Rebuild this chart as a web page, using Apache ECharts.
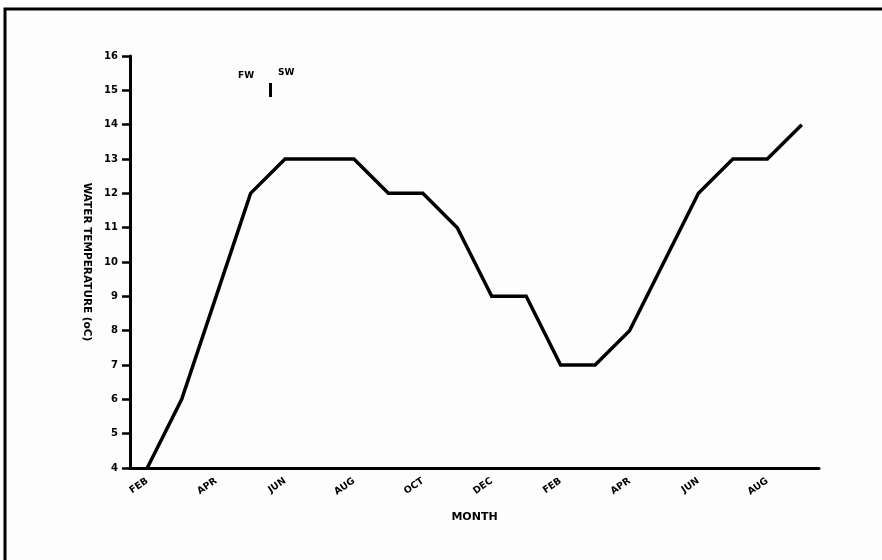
<!DOCTYPE html>
<html>
<head>
<meta charset="utf-8">
<script src="https://cdn.jsdelivr.net/npm/echarts@6/dist/echarts.min.js"></script>
<style>
  html, body { margin: 0; padding: 0; background: #fdfdfd; }
  #chart { width: 882px; height: 560px; }
</style>
</head>
<body>
<div id="chart"></div>
<script>
// Monthly water temperature over twenty months
const months = ['FEB', 'MAR', 'APR', 'MAY', 'JUN', 'JUL', 'AUG', 'SEP', 'OCT', 'NOV',
                'DEC', 'JAN', 'FEB', 'MAR', 'APR', 'MAY', 'JUN', 'JUL', 'AUG', 'SEP'];
const waterTemp = [4, 6, 9, 12, 13, 13, 13, 12, 12, 11,
                   9, 9, 7, 7, 8, 10, 12, 13, 13, 14];
const yTicks = { min: 4, max: 16, step: 1 };

const font = 'DejaVu Sans';
const chart = echarts.init(document.getElementById('chart'));

chart.setOption({
  backgroundColor: '#fdfdfd',
  animation: false,
  grid: { left: 130, right: 63, top: 56, bottom: 92 },
  xAxis: {
    type: 'category',
    data: months,
    boundaryGap: true,
    name: 'MONTH',
    nameLocation: 'middle',
    nameGap: 44,
    nameTextStyle: { fontFamily: font, fontWeight: 'bold', fontSize: 11, color: '#000' },
    axisLine: { lineStyle: { color: '#000', width: 3 } },
    axisTick: { alignWithLabel: true, interval: 0, length: 6, lineStyle: { color: '#000', width: 2.5 } },
    axisLabel: {
      interval: 1, rotate: 35, margin: 12,
      fontFamily: font, fontWeight: 'bold', fontSize: 9.5, color: '#000'
    },
    splitLine: { show: false }
  },
  yAxis: {
    type: 'value',
    min: yTicks.min,
    max: yTicks.max,
    interval: yTicks.step,
    name: 'WATER TEMPERATURE (oC)',
    nameLocation: 'middle',
    nameRotate: -90,
    nameGap: 38,
    nameTextStyle: { fontFamily: font, fontWeight: 'bold', fontSize: 10.5, color: '#000' },
    axisLine: { show: true, lineStyle: { color: '#000', width: 3 } },
    axisTick: { show: true, length: 8, lineStyle: { color: '#000', width: 2.5 } },
    axisLabel: { margin: 12, fontFamily: font, fontWeight: 'bold', fontSize: 10, color: '#000' },
    splitLine: { show: false }
  },
  series: [{
    type: 'line',
    data: waterTemp,
    symbol: 'none',
    lineStyle: { color: '#000', width: 3.5, join: 'miter' }
  }],
  graphic: [
    // page frame along the top and left edges
    {
      type: 'polyline',
      shape: { points: [[5, 560], [5, 9], [882, 9]] },
      style: { stroke: '#000', lineWidth: 3, fill: null }
    },
    // freshwater / saltwater marker
    {
      type: 'text', left: 238, top: 71,
      style: { text: 'FW', font: 'bold 9px "DejaVu Sans"', fill: '#000' }
    },
    {
      type: 'line',
      shape: { x1: 270.5, y1: 83, x2: 270.5, y2: 97 },
      style: { stroke: '#000', lineWidth: 3 }
    },
    {
      type: 'text', left: 278, top: 68,
      style: { text: 'SW', font: 'bold 9px "DejaVu Sans"', fill: '#000' }
    }
  ]
});
</script>
</body>
</html>
